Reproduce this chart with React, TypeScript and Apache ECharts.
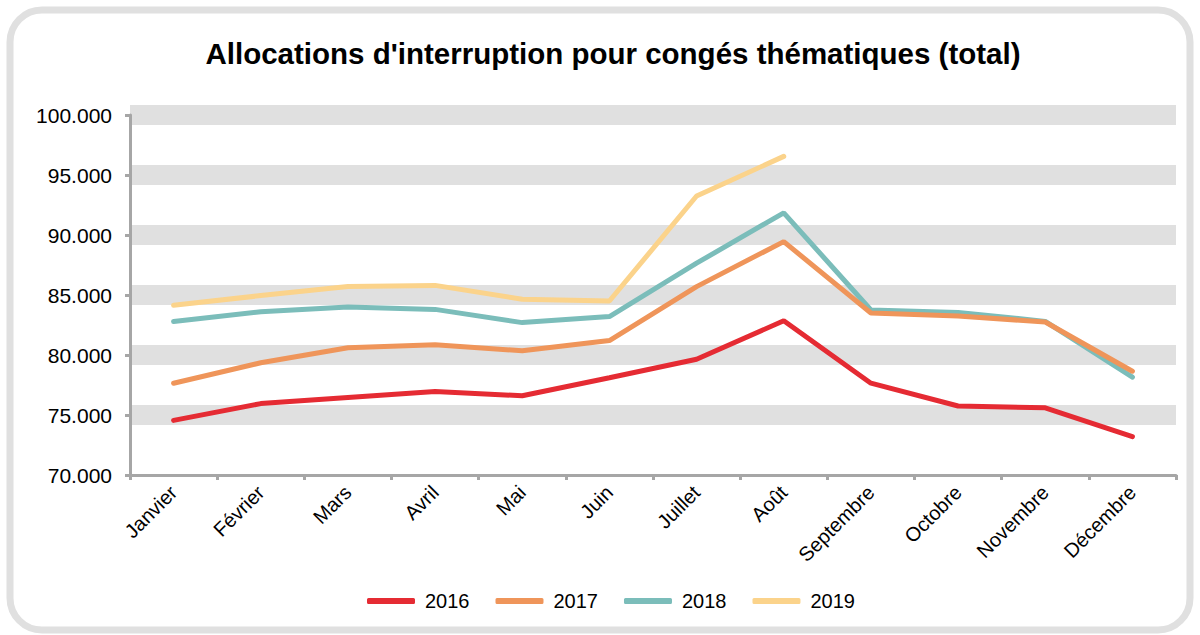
import React, { useEffect, useRef } from "react";
import * as echarts from "echarts";

const months = ["Janvier", "Février", "Mars", "Avril", "Mai", "Juin", "Juillet", "Août", "Septembre", "Octobre", "Novembre", "Décembre"];
const y2016 = [74550, 75950, 76450, 76950, 76600, 78100, 79650, 82850, 77650, 75750, 75600, 73200];
const y2017 = [77650, 79350, 80600, 80850, 80350, 81200, 85700, 89450, 83500, 83250, 82750, 78650];
const y2018 = [82800, 83600, 84000, 83800, 82700, 83200, 87650, 91850, 83750, 83550, 82800, 78150];
const y2019 = [84150, 84950, 85700, 85800, 84650, 84500, 93250, 96550];
const years = ["2016", "2017", "2018", "2019"];
const colors = ["#e52b33", "#ef955a", "#7bbdba", "#fbd38b"];

const fmt = (v: number) => {
  const s = Math.round(v).toString();
  return s.replace(/\B(?=(\d{3})+(?!\d))/g, ".");
};

export default function App() {
  const ref = useRef<HTMLDivElement>(null);
  useEffect(() => {
    document.body.style.margin = "0";
    const chart = echarts.init(ref.current!, null, { renderer: "svg" });
    const data = [y2016, y2017, y2018, y2019];
    chart.setOption({
      animation: false,
      backgroundColor: "#ffffff",
      title: {
        text: "Allocations d'interruption pour congés thématiques (total)",
        left: 608,
        textAlign: "center",
        top: 33,
        textStyle: { fontFamily: "Liberation Sans", fontSize: 29.5, fontWeight: "bold", color: "#000" },
      },
      graphic: [
        {
          type: "rect",
          shape: { x: 10, y: 10, width: 1180, height: 620, r: 32 },
          style: { fill: "none", stroke: "#e0e0e0", lineWidth: 7 },
          silent: true,
        },
      ],
      grid: { left: 130, right: 24, top: 115, bottom: 160 },
      legend: {
        left: 362,
        top: 586,
        itemWidth: 48,
        itemHeight: 6,
        itemGap: 26,
        icon: "roundRect",
        textStyle: { fontFamily: "Liberation Sans", fontSize: 20, color: "#000", padding: [0, 0, 0, 5] },
        data: years,
      },
      xAxis: {
        type: "category",
        data: months,
        boundaryGap: true,
        axisLine: { lineStyle: { color: "#a6a6a6", width: 3 } },
        axisTick: { show: true, length: 5, lineStyle: { color: "#a6a6a6", width: 3 } },
        axisLabel: {
          rotate: 45,
          margin: 14,
          interval: 0,
          fontFamily: "Liberation Sans",
          fontSize: 20,
          color: "#000",
        },
      },
      yAxis: {
        type: "value",
        min: 70000,
        max: 100000,
        interval: 5000,
        axisLine: { show: true, lineStyle: { color: "#a6a6a6", width: 3 } },
        axisTick: { show: true, length: 5, lineStyle: { color: "#a6a6a6", width: 3 } },
        axisLabel: {
          formatter: (v: number) => fmt(v),
          margin: 18,
          fontFamily: "Liberation Sans",
          fontSize: 21,
          color: "#000",
        },
        splitLine: {
          show: true,
          showMinLine: false,
          lineStyle: { color: "#e0e0e0", width: 20 },
        },
      },
      series: years.map((y, i) => ({
        name: y,
        type: "line",
        data: data[i],
        symbol: "none",
        color: colors[i],
        lineStyle: { width: 5, color: colors[i], cap: "round" },
        z: 3 + (3 - i),
      })),
    });
    return () => chart.dispose();
  }, []);
  return <div ref={ref} style={{ width: 1200, height: 635 }} />;
}
